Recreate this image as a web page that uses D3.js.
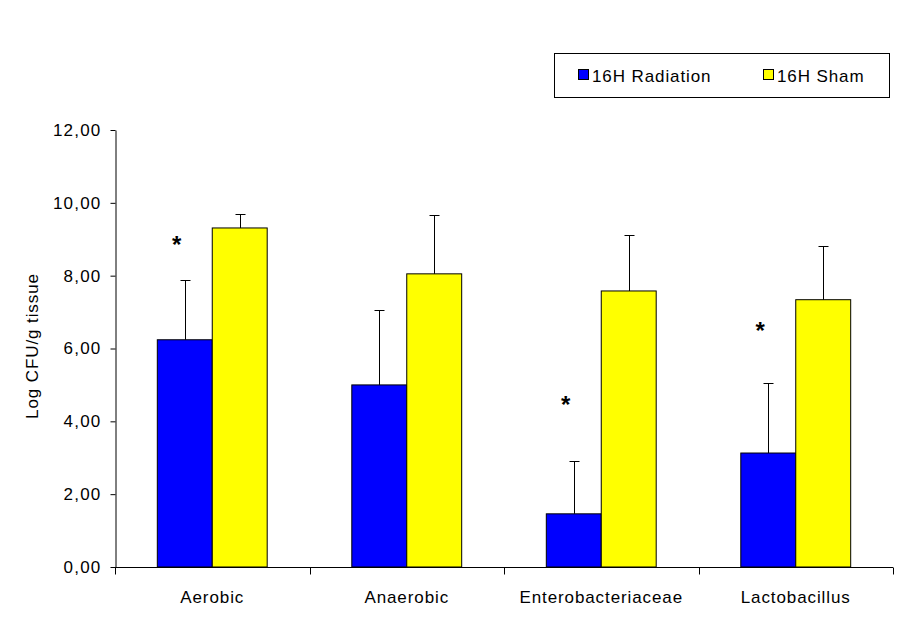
<!DOCTYPE html>
<html><head><meta charset="utf-8">
<script src="https://cdn.jsdelivr.net/npm/d3@7"></script>
<style>body{margin:0;background:#fff}svg{display:block;font-family:"Liberation Sans",Arial,sans-serif}</style>
</head><body><svg id="c" width="904" height="626"></svg>
<script>
const categories = ["Aerobic","Anaerobic","Enterobacteriaceae","Lactobacillus"];
const seriesNames = ["16H Radiation","16H Sham"];
const radiation = [6.24, 5.00, 1.46, 3.13];
const radiationErr = [1.64, 2.06, 1.45, 1.92];
const sham = [9.31, 8.05, 7.58, 7.34];
const shamErr = [0.39, 1.62, 1.54, 1.48];
const significant = [true, false, true, true];
const asteriskAt = [8.96, 0, 4.56, 6.59];
const yTicks = [0,2,4,6,8,10,12];
const colors = ["#0000ff","#ffff00"];

const svg = d3.select("#c");
const x0 = d3.scaleBand().domain(categories).range([115, 893]).paddingInner(0).paddingOuter(0);
const x1 = d3.scaleBand().domain(seriesNames).range([0, x0.bandwidth()]).paddingInner(0).paddingOuter(0.77);
const y = d3.scaleLinear().domain([0,12]).range([567,130]);
const fmt = d => d.toFixed(2).replace(".", ",");

// bars
const series = [radiation, sham];
const errs = [radiationErr, shamErr];
series.forEach((vals, si) => {
  const g = svg.append("g");
  g.selectAll("rect").data(vals).join("rect")
    .attr("x", (d,i) => x0(categories[i]) + x1(seriesNames[si]))
    .attr("y", d => y(d))
    .attr("width", x1.bandwidth())
    .attr("height", d => y(0) - y(d))
    .attr("fill", colors[si]).attr("stroke", "#000").attr("stroke-width", 1);
  vals.forEach((d,i) => {
    const cx = Math.round(x0(categories[i]) + x1(seriesNames[si]) + x1.bandwidth()/2) + 0.5;
    const top = Math.round(y(d + errs[si][i])) + 0.5;
    g.append("line").attr("x1",cx).attr("x2",cx).attr("y1",y(d)).attr("y2",top).attr("stroke","#000");
    g.append("line").attr("x1",cx-5).attr("x2",cx+5).attr("y1",top).attr("y2",top).attr("stroke","#000");
  });
});

// asterisks
categories.forEach((c,i) => {
  if (!significant[i]) return;
  const cx = x0(c) + x1(seriesNames[0]) + x1.bandwidth()/2 - 8;
  svg.append("text").attr("x", cx).attr("y", y(asteriskAt[i]) + 12)
    .attr("text-anchor","middle").attr("font-size", 24).attr("font-weight","bold").text("*");
});

// y axis
const yAxis = d3.axisLeft(y).tickValues(yTicks).tickFormat(fmt).tickSize(5).tickSizeOuter(0);
const ya = svg.append("g").attr("transform","translate(115.5,0)").call(yAxis);
ya.selectAll("text").attr("font-size", 17).attr("letter-spacing", 1.2).attr("fill","#000").attr("x", -14).attr("font-family","Liberation Sans, Arial, sans-serif");
ya.selectAll("line,path").attr("stroke","#000");

// x axis
const xa = svg.append("g").attr("transform","translate(0,567.5)");
xa.append("line").attr("x1",115).attr("x2",893).attr("stroke","#000");
const bounds = categories.map(c => x0(c)).concat([x0.range()[1]]);
xa.selectAll("line.t").data(bounds).join("line").attr("class","t")
  .attr("x1", d => Math.round(d)+0.5).attr("x2", d => Math.round(d)+0.5).attr("y1",0).attr("y2",7).attr("stroke","#000");
xa.selectAll("text").data(categories).join("text")
  .attr("x", d => x0(d) + x0.bandwidth()/2).attr("y", 35)
  .attr("text-anchor","middle").attr("font-size", 17).attr("letter-spacing", 0.9).text(d => d);

// y label
svg.append("text").attr("transform","translate(38,346) rotate(-90)")
  .attr("text-anchor","middle").attr("font-size", 17).attr("letter-spacing", 0.9).text("Log CFU/g tissue");

// legend
const lg = svg.append("g");
lg.append("rect").attr("x",554.5).attr("y",53.5).attr("width",335).attr("height",44).attr("fill","#fff").attr("stroke","#000");
const lx = [578, 763];
seriesNames.forEach((n,i) => {
  lg.append("rect").attr("x",lx[i]+0.5).attr("y",69.5).attr("width",10).attr("height",10).attr("fill",colors[i]).attr("stroke","#000");
  lg.append("text").attr("x",lx[i]+14).attr("y",82).attr("font-size",17).attr("letter-spacing", 0.9).text(n);
});
</script></body></html>
